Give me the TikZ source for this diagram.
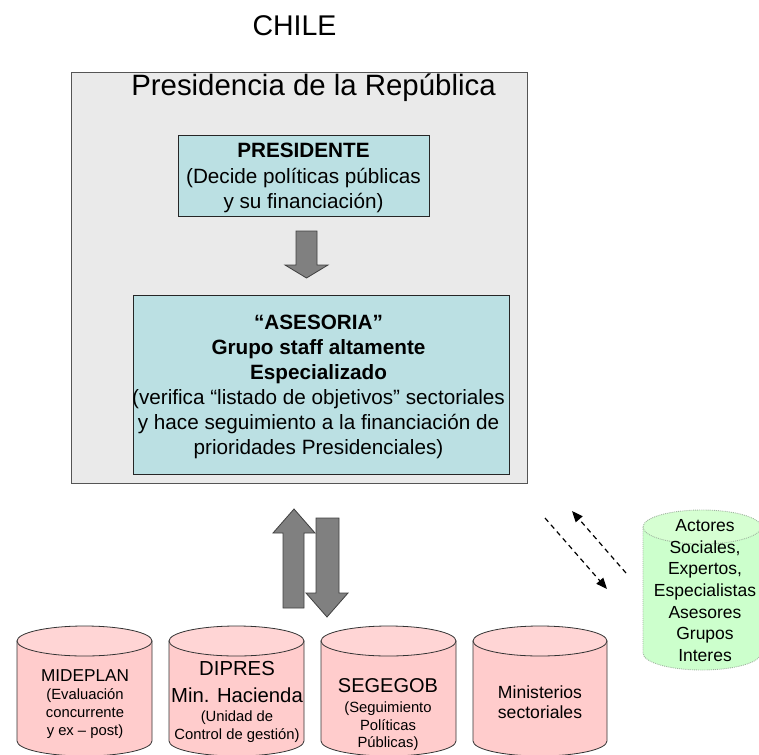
\documentclass[tikz,border=0pt]{standalone}
\usepackage{fontspec}
\setmainfont{Liberation Sans}
\usetikzlibrary{arrows.meta}
\newcommand\myfs[2]{\fontsize{#1}{#2}\selectfont}
\definecolor{outerfill}{RGB}{234,234,234}
\definecolor{outerline}{RGB}{85,85,85}
\definecolor{cyanfill}{RGB}{187,224,227}
\definecolor{pinkbody}{RGB}{255,204,204}
\definecolor{pinktop}{RGB}{255,213,213}
\definecolor{greenbody}{RGB}{204,255,204}
\definecolor{greentop}{RGB}{214,255,210}
\definecolor{greenline}{RGB}{160,180,160}
\definecolor{arrowfill}{RGB}{128,128,128}
\definecolor{arrowline}{RGB}{64,64,64}
\tikzset{
  lbl/.style={inner sep=0pt, anchor=base},
  blk/.style={inner sep=0pt, align=center},
  blockarrow/.style={fill=arrowfill, draw=arrowline, line width=0.8pt, line join=miter},
  cylpink/.style={draw=black!80, line width=0.8pt},
  dasharrow/.style={dashed, dash pattern=on 5pt off 4pt, line width=1.2pt, -{Triangle[length=11pt,width=9pt]}}
}
% cylinder: #1 left x, #2 right x, #3 top centre y, #4 bottom centre y, #5 ry, #6 body, #7 top, #8 style
\newcommand\mycyl[8]{%
  \pgfmathsetmacro\rx{(#2-#1)/2}%
  \pgfmathsetmacro\cx{(#1+#2)/2}%
  \path[#8, fill=#6] (#1,#3) -- (#1,#4) arc[start angle=180, end angle=360, x radius=\rx pt, y radius=#5pt] -- (#2,#3) -- cycle;
  \path[#8, fill=#7] (\cx,#3) ellipse[x radius=\rx pt, y radius=#5pt];
}
\begin{document}
\begin{tikzpicture}[x=1pt,y=-1pt]
\useasboundingbox (0,0) rectangle (759,754);

\node[lbl, font=\myfs{28.5}{32}] (chile) at (294.5,36) {CHILE};

% presidency frame
\draw[fill=outerfill, draw=outerline, line width=0.9pt] (71,72) rectangle (527,483);
\node[lbl, font=\myfs{29.4}{34}] (pres) at (313.5,96) {Presidencia de la República};

\node[draw=black!85, fill=cyanfill, line width=0.8pt, minimum width=251pt, minimum height=81pt, inner sep=0pt] (pbox) at (303.5,175.5) {};
\node[blk, font=\myfs{20.7}{25.5}] (ptext) at (303.5,178) {\textbf{PRESIDENTE}\\(Decide políticas públicas\\y su financiación)};

\node[draw=black!85, fill=cyanfill, line width=0.8pt, minimum width=376pt, minimum height=179pt, inner sep=0pt] (abox) at (321,384.5) {};
\node[blk, font=\myfs{20.7}{25}] (atext) at (318.5,387) {\textbf{“ASESORIA”}\\\textbf{Grupo staff altamente}\\\textbf{Especializado}\\(verifica “listado de objetivos” sectoriales\\y hace seguimiento a la financiación de\\prioridades Presidenciales)};

% small down arrow
\draw[blockarrow] (296,231) -- (317,231) -- (317,265) -- (328,265) -- (306.5,278) -- (285,265) -- (296,265) -- cycle;

% up and down arrows
\draw[blockarrow] (283,608) -- (283,533) -- (273,533) -- (294,509) -- (315,533) -- (304,533) -- (304,608) -- cycle;
\draw[blockarrow] (316,518) -- (339,518) -- (339,593) -- (348,593) -- (327,617) -- (306,593) -- (316,593) -- cycle;

% dashed arrows
\coordinate (d1s) at (545,518);
\coordinate (d1e) at (607,589);
\coordinate (d2s) at (626,573);
\coordinate (d2e) at (572,511);
\draw[dasharrow] (d1s) -- (d1e);
\draw[dasharrow] (d2s) -- (d2e);

% green cylinder
\mycyl{643}{761}{527}{653}{17}{greenbody}{greentop}{draw=greenline, line width=0.9pt, densely dotted}
\node[lbl, font=\myfs{17.5}{21}] (g1) at (705,531) {Actores};
\node[lbl, font=\myfs{17.5}{21}] (g2) at (705,553) {Sociales,};
\node[lbl, font=\myfs{17.5}{21}] (g3) at (705,574) {Expertos,};
\node[lbl, font=\myfs{17.5}{21}] (g4) at (705,596) {Especialistas};
\node[lbl, font=\myfs{17.5}{21}] (g5) at (705,618) {Asesores};
\node[lbl, font=\myfs{17.5}{21}] (g6) at (705,639) {Grupos};
\node[lbl, font=\myfs{17.5}{21}] (g7) at (705,661) {Interes};

% pink cylinders
\mycyl{17}{152}{641}{741}{15}{pinkbody}{pinktop}{cylpink}
\mycyl{169}{304}{641}{741}{15}{pinkbody}{pinktop}{cylpink}
\mycyl{321}{456}{641}{741}{15}{pinkbody}{pinktop}{cylpink}
\mycyl{473}{607}{641}{741}{15}{pinkbody}{pinktop}{cylpink}

\node[lbl, font=\myfs{17.2}{20}] (m1) at (85,681) {MIDEPLAN};
\node[lbl, font=\myfs{14.8}{18}] (m2) at (85,699) {(Evaluación};
\node[lbl, font=\myfs{14.8}{18}] (m3) at (85,717) {concurrente};
\node[lbl, font=\myfs{14.8}{18}] (m4) at (85,735) {y ex – post)};

\node[lbl, font=\myfs{20.3}{24}] (d1) at (237,675) {DIPRES};
\node[lbl, font=\myfs{20.3}{24}] (d2) at (237,702) {Min. Hacienda};
\node[lbl, font=\myfs{14.8}{18}] (d3) at (237,721) {(Unidad de};
\node[lbl, font=\myfs{14.8}{18}] (d4) at (237,739) {Control de gestión)};

\node[lbl, font=\myfs{20}{24}] (s1) at (388,692) {SEGEGOB};
\node[lbl, font=\myfs{14.8}{18}] (s2) at (388,712) {(Seguimiento};
\node[lbl, font=\myfs{14.8}{18}] (s3) at (388,730) {Políticas};
\node[lbl, font=\myfs{14.8}{18}] (s4) at (388,747) {Públicas)};

\node[lbl, font=\myfs{17.6}{20}] (n1) at (540,698) {Ministerios};
\node[lbl, font=\myfs{17.6}{20}] (n2) at (540,718) {sectoriales};
\end{tikzpicture}
\end{document}
